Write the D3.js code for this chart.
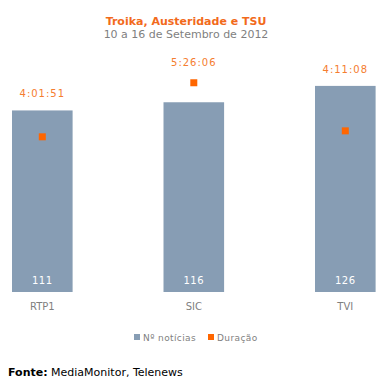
<!DOCTYPE html>
<html>
<head>
<meta charset="utf-8">
<script src="https://cdn.jsdelivr.net/npm/d3@7"></script>
<style>
body { margin:0; background:#fff; }
svg text { font-family: "DejaVu Sans", Verdana, sans-serif; }
</style>
</head>
<body>
<div id="vis1"></div>
<script>
var canais = ["RTP1","SIC","TVI"];
var noticias = [111,116,126];
var duracao = ["4:01:51","5:26:06","4:11:08"];
var titulo = "Troika, Austeridade e TSU";
var subtitulo = "10 a 16 de Setembro de 2012";

function toSeconds(s){
	var p = s.split(":").map(Number);
	return p[0]*3600 + p[1]*60 + p[2];
}

gen_vis();

function gen_vis()
{
	var w = 387, h = 389;
	var svg = d3.select("#vis1").append("svg")
		.attr("width",w).attr("height",h);

	var x = d3.scaleBand().domain(canais).range([-18.3,405.9]).paddingInner(0.6).paddingOuter(0.2);
	var y = d3.scaleLinear().domain([0,140]).range([292,63]);
	var y2 = d3.scaleLinear().domain([0,21600]).range([292,61]);

	// titulo
	svg.append("text").attr("x",186).attr("y",25).attr("text-anchor","middle")
		.attr("font-size",11).attr("font-weight","bold").attr("fill","#f26a1b").text(titulo);
	svg.append("text").attr("x",186).attr("y",38).attr("text-anchor","middle")
		.attr("font-size",11).attr("fill","#7f7f7f").text(subtitulo);

	svg.selectAll("rect.bar").data(canais).enter().append("rect")
		.attr("class","bar")
		.attr("x",function(d){ return x(d); })
		.attr("width",x.bandwidth())
		.attr("y",function(d,i){ return y(noticias[i]); })
		.attr("height",function(d,i){ return y(0)-y(noticias[i]); })
		.attr("fill","#879db4");

	svg.selectAll("text.val").data(canais).enter().append("text")
		.attr("x",function(d){ return x(d)+x.bandwidth()/2; })
		.attr("y",284).attr("text-anchor","middle")
		.attr("font-size",10).attr("letter-spacing",0.5).attr("fill","#fff")
		.text(function(d,i){ return noticias[i]; });

	svg.selectAll("rect.dur").data(canais).enter().append("rect")
		.attr("class","dur")
		.attr("x",function(d){ return x(d)+x.bandwidth()/2-3.5; })
		.attr("y",function(d,i){ return y2(toSeconds(duracao[i]))-3.5; })
		.attr("width",7).attr("height",7)
		.attr("fill","#ff6600");

	svg.selectAll("text.dur").data(canais).enter().append("text")
		.attr("x",function(d){ return x(d)+x.bandwidth()/2; })
		.attr("y",function(d,i){
			var top = Math.min(y(noticias[i]), y2(toSeconds(duracao[i]))-4);
			return top-13;
		})
		.attr("text-anchor","middle")
		.attr("font-size",10).attr("letter-spacing",1).attr("fill","#f57d2f")
		.text(function(d,i){ return duracao[i]; });

	svg.selectAll("text.cat").data(canais).enter().append("text")
		.attr("x",function(d){ return x(d)+x.bandwidth()/2; })
		.attr("y",310).attr("text-anchor","middle")
		.attr("font-size",10).attr("fill","#7f7f7f")
		.text(function(d){ return d; });

	// legenda
	var leg = [{t:"Nº notícias",c:"#879db4",x:134},{t:"Duração",c:"#ff6600",x:208}];
	var g = svg.selectAll("g.leg").data(leg).enter().append("g")
		.attr("transform",function(d){ return "translate("+d.x+",337)"; });
	g.append("rect").attr("x",0).attr("y",-3).attr("width",6).attr("height",6).attr("fill",function(d){ return d.c; });
	g.append("text").attr("x",9).attr("y",3.5).attr("font-size",9).attr("letter-spacing",0.4)
		.attr("fill","#7f7f7f").text(function(d){ return d.t; });

	var f = svg.append("text").attr("x",8).attr("y",376).attr("font-size",11).attr("fill","#000");
	f.append("tspan").attr("font-weight","bold").text("Fonte:");
	f.append("tspan").text(" MediaMonitor, Telenews");
}
</script>
</body>
</html>
